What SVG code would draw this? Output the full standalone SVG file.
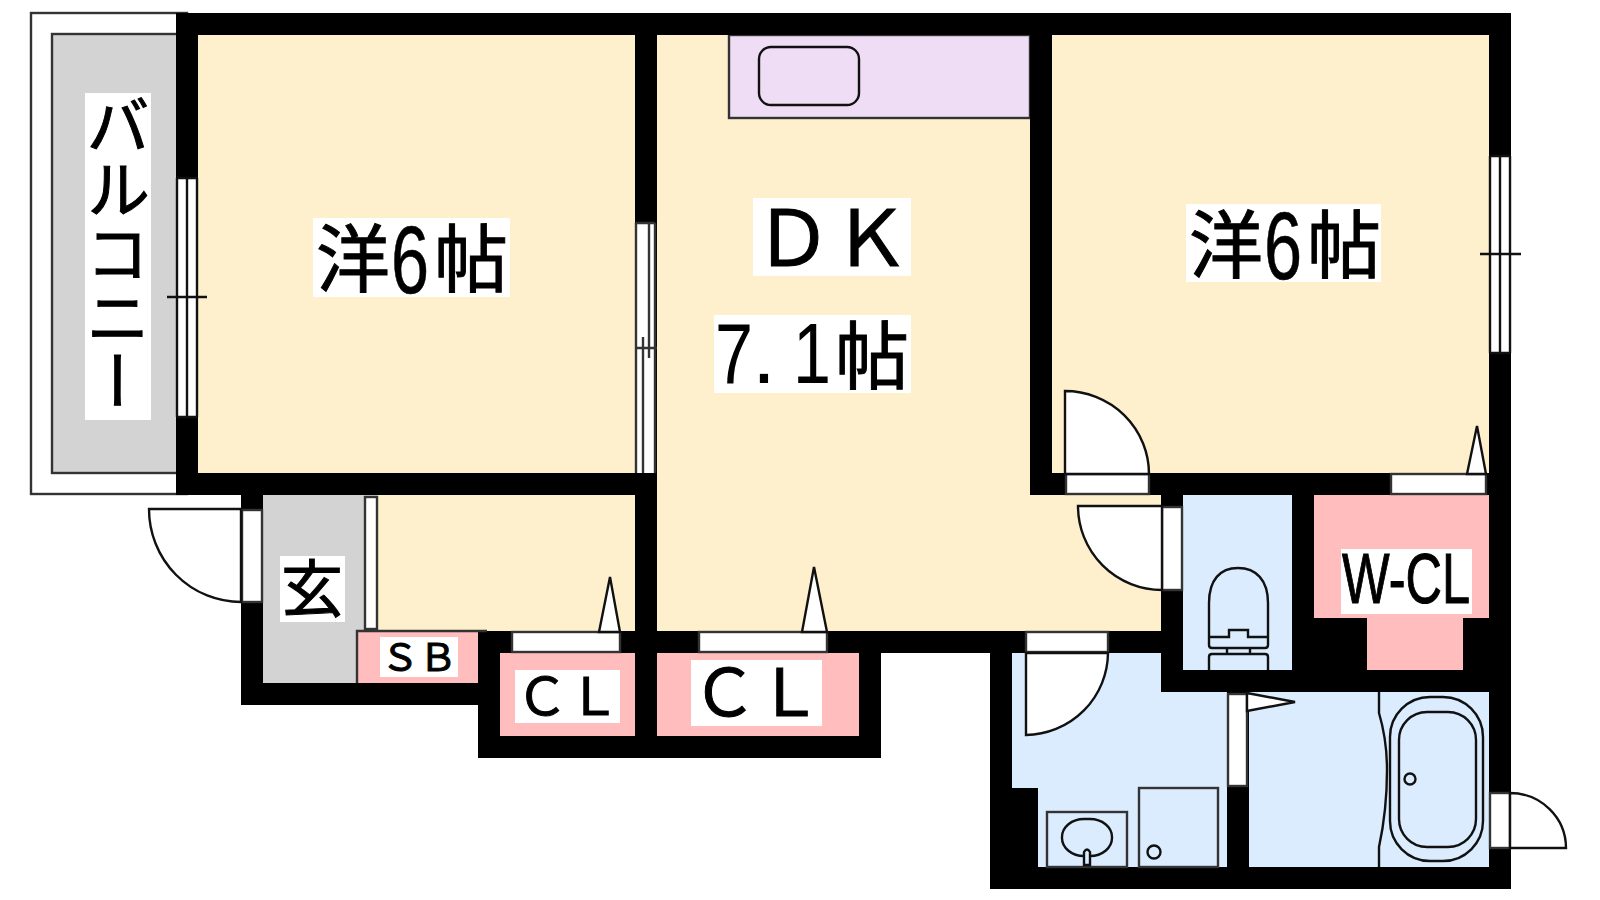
<svg xmlns="http://www.w3.org/2000/svg" width="1600" height="900" viewBox="0 0 1600 900">
<style>
.wall{fill:#000}
.cream{fill:#fef0cd}
.blue{fill:#dbecff}
.pink{fill:#ffbdbd}
.gray{fill:#d3d3d3}
.lilac{fill:#eeddf5}
.o{fill:none;stroke:#111;stroke-width:2.4}
.b{fill:#fff;stroke:#333;stroke-width:2.4}
.d{fill:#fff;stroke:#111;stroke-width:2.4}
.f{fill:#fff}
text{fill:#000;font-family:"Liberation Sans","Noto Sans CJK JP",sans-serif}
.j{font-family:"Noto Sans CJK JP",sans-serif;stroke:#000;stroke-width:1}
</style>
<rect width="1600" height="900" fill="#fff"/>
<!-- balcony -->
<rect x="31" y="13" width="156" height="481" class="b"/>
<rect x="52" y="34" width="130" height="439" class="gray" stroke="#333" stroke-width="2.4"/>
<!-- floors -->
<rect x="198" y="35" width="437" height="438" class="cream"/>
<rect x="657" y="35" width="373" height="596" class="cream"/>
<rect x="1030" y="495" width="131" height="136" class="cream"/>
<rect x="1052" y="35" width="437" height="438" class="cream"/>
<rect x="378" y="495" width="257" height="136" class="cream"/>
<rect x="263" y="495" width="115" height="188" class="gray"/>
<rect x="357" y="631" width="121" height="52" class="pink"/>
<rect x="500" y="653" width="135" height="83" class="pink"/>
<rect x="657" y="653" width="202" height="83" class="pink"/>
<rect x="1183" y="495" width="109" height="175" class="blue"/>
<rect x="1314" y="495" width="175" height="123" class="pink"/>
<rect x="1367" y="618" width="96" height="52" class="pink"/>
<rect x="1012" y="653" width="215" height="214" class="blue"/>
<rect x="1161" y="692" width="328" height="175" class="blue"/>
<rect x="729" y="35" width="301" height="83" class="lilac" stroke="#333" stroke-width="2.4"/>
<!-- walls -->
<path class="wall" d="M176 13H1511V889H990V653H881V758H478V705H241V495H176ZM198 35V473H635V35ZM657 35V631H1161V495H1030V35ZM1052 35V473H1489V35ZM263 495V683H478V631H635V495ZM500 653V736H635V653ZM657 653V736H859V653ZM1183 495V670H1292V495ZM1314 495V618H1367V670H1463V618H1489V495ZM1012 653V788H1038V867H1227V692H1161V653ZM1249 692V867H1489V692Z" fill-rule="evenodd"/>
<!-- SB edge -->
<path class="o" d="M357 683V631H487" style="stroke:#333"/>
<!-- windows -->
<g>
<rect x="177" y="178" width="20" height="239" fill="#fff"/>
<path class="o" d="M177 178V417M187 178V417M197 178V417M177 178H197M177 417H197M167 297H207"/>
<rect x="636" y="223" width="19" height="250" fill="#fff"/>
<path class="o" d="M636 223V473M655 223V473M649 223V358M643 337V473M636 348H657M636 223H655" style="stroke:#333"/>
<rect x="1490" y="156" width="20" height="197" fill="#fff"/>
<path class="o" d="M1490 156V353M1500 156V353M1510 156V353M1490 156H1510M1490 353H1510M1480 254H1521"/>
</g>
<!-- doors -->
<g>
<rect x="242" y="510" width="20" height="92" class="b"/>
<path class="d" d="M241 509H149A92 93 0 0 0 241 602Z"/>
<rect x="365" y="497" width="12" height="132" class="b"/>
<rect x="512" y="632" width="108" height="20" class="b"/>
<path class="d" d="M610 577L599 632H620Z"/>
<rect x="699" y="632" width="128" height="20" class="b"/>
<path class="d" d="M814 567L802 632H827Z"/>
<rect x="1066" y="474" width="83" height="20" class="b"/>
<path class="d" d="M1065 474V391A84 83 0 0 1 1149 474Z"/>
<rect x="1391" y="474" width="95" height="20" class="b"/>
<path class="d" d="M1477 426L1467 474H1486Z"/>
<rect x="1162" y="507" width="20" height="83" class="b"/>
<path class="d" d="M1162 506H1078A84 84 0 0 0 1162 590Z"/>
<rect x="1026" y="632" width="82" height="20" class="b"/>
<path class="d" d="M1026 653V735A83 83 0 0 0 1108 653Z"/>
<rect x="1228" y="694" width="19" height="92" class="b"/>
<path class="d" d="M1247 693L1295 702L1247 711Z"/>
<rect x="1490" y="793" width="20" height="55" class="b"/>
<path class="d" d="M1510 793A56 55 0 0 1 1566 848H1510Z"/>
</g>
<!-- fixtures -->
<g>
<rect x="759" y="47" width="100" height="58" rx="12" class="o"/>
<path class="o" d="M1209 637V603C1209 580 1220 568 1238 568C1256 568 1268 580 1268 603V637H1248V630H1229V637ZM1209 637V645Q1209 648 1212 648H1265Q1268 648 1268 645V637M1227 648V654M1250 648V654M1209 670V657Q1209 654 1212 654H1265Q1268 654 1268 657V670"/>
<path class="o" d="M1379 692V713Q1387 740 1387 770Q1387 810 1379 847V867"/>
<rect x="1390" y="697" width="93" height="164" rx="40" class="o"/>
<rect x="1399" y="712" width="77" height="135" rx="28" class="o"/>
<circle cx="1410" cy="779" r="5.5" class="o"/>
<rect x="1139" y="788" width="79" height="79" class="o" style="stroke:#333"/>
<circle cx="1154" cy="852" r="6.5" class="o"/>
<rect x="1047" y="812" width="80" height="55" class="o" style="stroke:#333"/>
<rect x="1062" y="819" width="50" height="37" rx="22" ry="18" class="o"/>
<path d="M1084 865V852Q1087 847 1090 852V865Z" fill="#dbecff" stroke="#111" stroke-width="2.4"/>
</g>
<!-- labels -->
<g id="label-balcony"><rect x="85" y="93" width="66" height="327" class="f"/>
<text class="j" x="118" y="93" font-size="64" style="writing-mode:vertical-rl;text-orientation:mixed">バルコニー</text></g>
<g id="label-room1"><rect x="313" y="218" width="197" height="79" class="f"/>
<text y="286" font-size="74"><tspan class="j" x="316">洋</tspan><tspan x="391" y="293" font-size="96" textLength="38" lengthAdjust="spacingAndGlyphs" style="stroke:#000;stroke-width:.6">6</tspan><tspan class="j" x="434" y="286">帖</tspan></text></g>
<g id="label-dk"><rect x="753" y="198" width="158" height="78" class="f"/>
<text class="j" x="754" y="266" font-size="78">ＤＫ</text></g>
<g id="label-dk-size"><rect x="714" y="315" width="197" height="78" class="f"/>
<text y="383" font-size="86"><tspan x="715" textLength="38" lengthAdjust="spacingAndGlyphs">7</tspan><tspan x="752">.</tspan><tspan x="793" textLength="38" lengthAdjust="spacingAndGlyphs">1</tspan><tspan class="j" x="835" font-size="74">帖</tspan></text></g>
<g id="label-room3"><rect x="1186" y="204" width="195" height="78" class="f"/>
<text y="272" font-size="74"><tspan class="j" x="1189">洋</tspan><tspan x="1264" y="279" font-size="96" textLength="38" lengthAdjust="spacingAndGlyphs" style="stroke:#000;stroke-width:.6">6</tspan><tspan class="j" x="1307" y="272">帖</tspan></text></g>
<g id="label-genkan"><rect x="280" y="556" width="65" height="66" class="f"/>
<text class="j" x="281" y="612" font-size="62">玄</text></g>
<g id="label-sb"><rect x="380" y="637" width="78" height="40" class="f"/>
<text class="j" x="381" y="671" font-size="38">ＳＢ</text></g>
<g id="label-cl1"><rect x="515" y="670" width="105" height="53" class="f"/>
<text class="j" x="516" y="715" font-size="52">ＣＬ</text></g>
<g id="label-cl2"><rect x="691" y="660" width="131" height="66" class="f"/>
<text class="j" x="692" y="716" font-size="65">ＣＬ</text></g>
<g id="label-wcl"><rect x="1341" y="549" width="131" height="65" class="f"/>
<text x="1342" y="603" font-size="70" textLength="128" lengthAdjust="spacingAndGlyphs" stroke="#000" stroke-width="1">W-CL</text></g>
</svg>
